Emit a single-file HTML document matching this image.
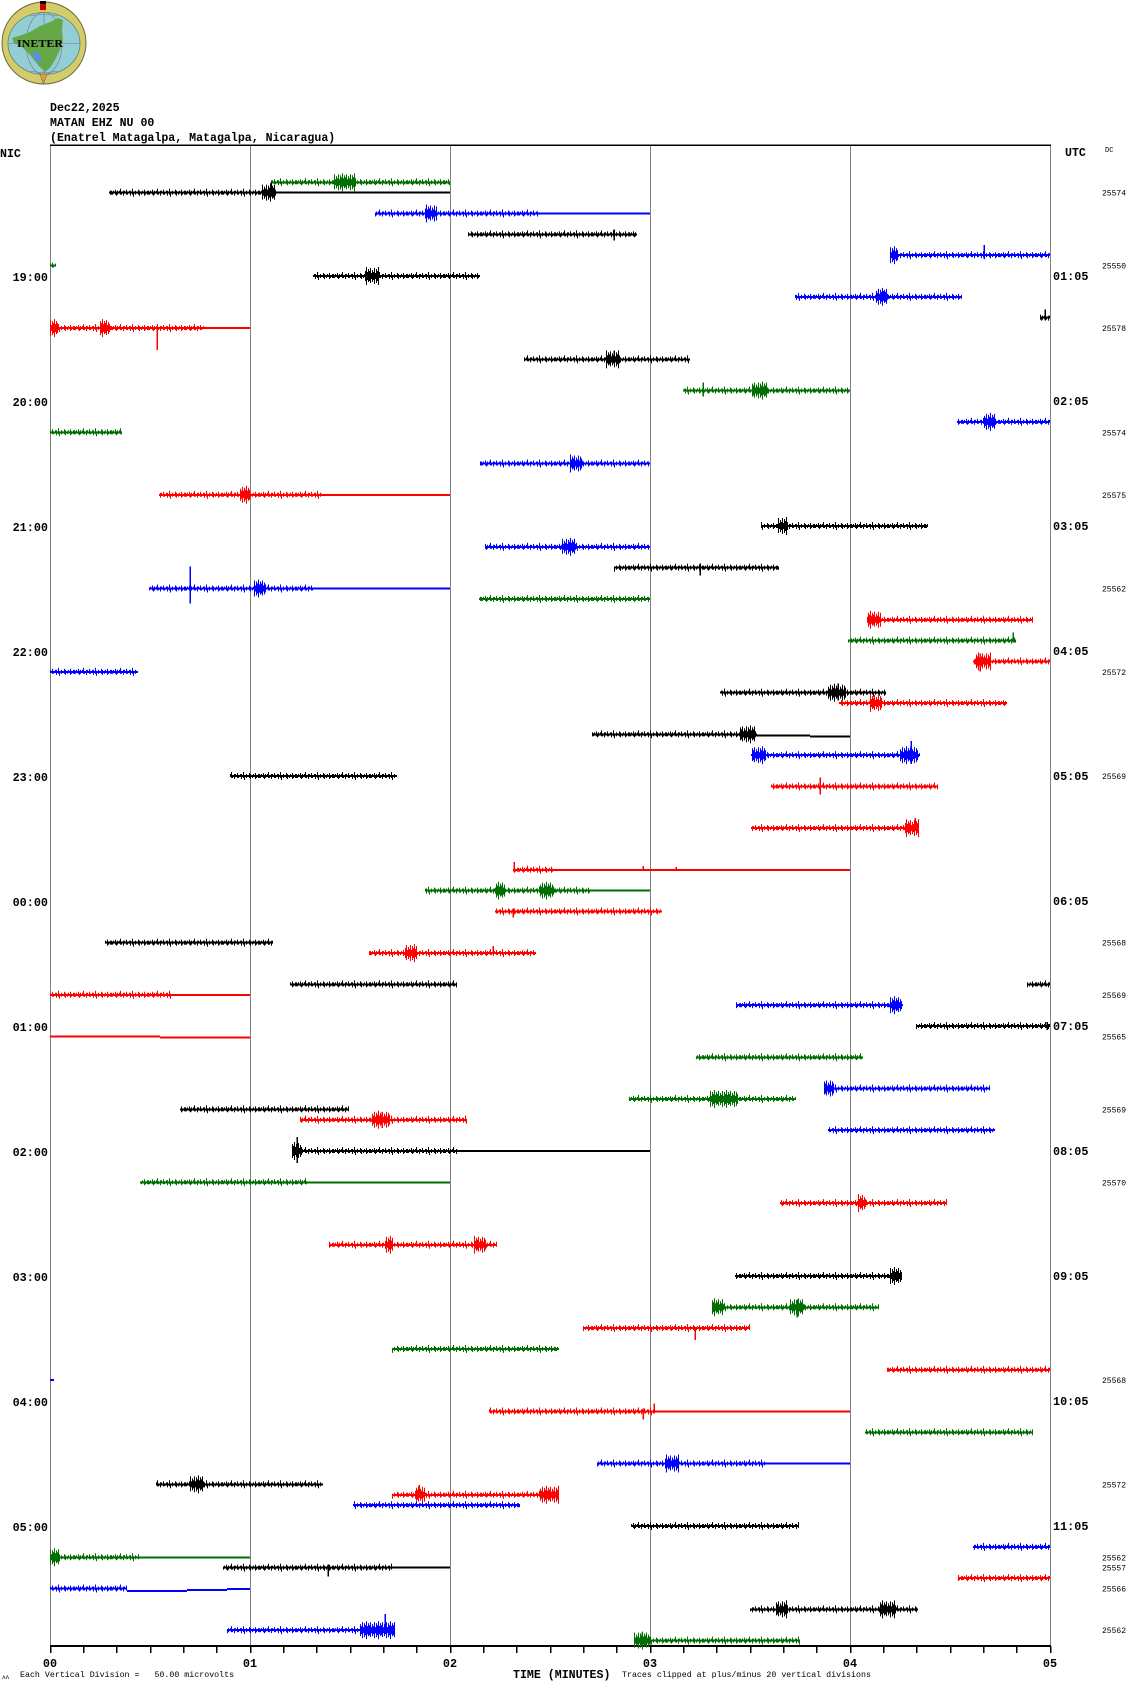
<!DOCTYPE html>
<html>
<head>
<meta charset="utf-8">
<style>
html,body{margin:0;padding:0;background:#fff;}
body{width:1130px;height:1689px;overflow:hidden;}
svg{display:block;}
.m{font-family:"Liberation Mono","DejaVu Sans Mono",monospace;}
.hb{font-weight:bold;font-size:11.6px;}
.tl{font-weight:bold;font-size:11.8px;}
.dc{font-size:8px;}
.sm{font-size:8.3px;white-space:pre;}
.k .L{fill:#000}.k .N{fill:url(#nk)}.k .B{fill:url(#bk)}.k path{stroke:#000}
.r .L{fill:#ff0000}.r .N{fill:url(#nr)}.r .B{fill:url(#br)}.r path{stroke:#ff0000}
.b .L{fill:#0000ff}.b .N{fill:url(#nb)}.b .B{fill:url(#bb)}.b path{stroke:#0000ff}
.g .L{fill:#006e00}.g .N{fill:url(#ng)}.g .B{fill:url(#bg)}.g path{stroke:#006e00}
.T path{stroke-width:1.5;fill:none}
</style>
</head>
<body>
<svg width="1130" height="1689" viewBox="0 0 1130 1689" xmlns="http://www.w3.org/2000/svg">
<defs>
<pattern id="nk" patternUnits="userSpaceOnUse" x="0" y="-7" width="37" height="14"><path d="M0.5 5V9M1.5 6V9M2.5 5V8M4.5 4V9M5.5 6V10M6.5 5V9M8.5 5V8M9.5 3V9M10.5 6V9M12.5 5V10M13.5 5V8M15.5 4V9M16.5 6V9M18.5 5V8M19.5 5V10M21.5 3V9M22.5 6V11M24.5 5V9M25.5 6V8M27.5 4V9M28.5 5V10M30.5 6V9M31.5 5V8M33.5 4V10M34.5 6V9M36.5 5V9" stroke="#000" stroke-width="1" shape-rendering="crispEdges"/></pattern>
<pattern id="nr" patternUnits="userSpaceOnUse" x="0" y="-7" width="37" height="14"><path d="M0.5 5V9M1.5 6V9M2.5 5V8M4.5 4V9M5.5 6V10M6.5 5V9M8.5 5V8M9.5 3V9M10.5 6V9M12.5 5V10M13.5 5V8M15.5 4V9M16.5 6V9M18.5 5V8M19.5 5V10M21.5 3V9M22.5 6V11M24.5 5V9M25.5 6V8M27.5 4V9M28.5 5V10M30.5 6V9M31.5 5V8M33.5 4V10M34.5 6V9M36.5 5V9" stroke="#ff0000" stroke-width="1" shape-rendering="crispEdges"/></pattern>
<pattern id="nb" patternUnits="userSpaceOnUse" x="0" y="-7" width="37" height="14"><path d="M0.5 5V9M1.5 6V9M2.5 5V8M4.5 4V9M5.5 6V10M6.5 5V9M8.5 5V8M9.5 3V9M10.5 6V9M12.5 5V10M13.5 5V8M15.5 4V9M16.5 6V9M18.5 5V8M19.5 5V10M21.5 3V9M22.5 6V11M24.5 5V9M25.5 6V8M27.5 4V9M28.5 5V10M30.5 6V9M31.5 5V8M33.5 4V10M34.5 6V9M36.5 5V9" stroke="#0000ff" stroke-width="1" shape-rendering="crispEdges"/></pattern>
<pattern id="ng" patternUnits="userSpaceOnUse" x="0" y="-7" width="37" height="14"><path d="M0.5 5V9M1.5 6V9M2.5 5V8M4.5 4V9M5.5 6V10M6.5 5V9M8.5 5V8M9.5 3V9M10.5 6V9M12.5 5V10M13.5 5V8M15.5 4V9M16.5 6V9M18.5 5V8M19.5 5V10M21.5 3V9M22.5 6V11M24.5 5V9M25.5 6V8M27.5 4V9M28.5 5V10M30.5 6V9M31.5 5V8M33.5 4V10M34.5 6V9M36.5 5V9" stroke="#006e00" stroke-width="1" shape-rendering="crispEdges"/></pattern>
<pattern id="bk" patternUnits="userSpaceOnUse" x="0" y="-12" width="12" height="24"><path d="M0.5 6V18M1.5 8V16M2.5 4V20M3.5 9V15M4.5 5V19M5.5 7V17M6.5 3V21M7.5 8V16M8.5 5V18M9.5 7V17M10.5 4V19M11.5 9V15" stroke="#000" stroke-width="1" shape-rendering="crispEdges"/></pattern>
<pattern id="br" patternUnits="userSpaceOnUse" x="0" y="-12" width="12" height="24"><path d="M0.5 6V18M1.5 8V16M2.5 4V20M3.5 9V15M4.5 5V19M5.5 7V17M6.5 3V21M7.5 8V16M8.5 5V18M9.5 7V17M10.5 4V19M11.5 9V15" stroke="#ff0000" stroke-width="1" shape-rendering="crispEdges"/></pattern>
<pattern id="bb" patternUnits="userSpaceOnUse" x="0" y="-12" width="12" height="24"><path d="M0.5 6V18M1.5 8V16M2.5 4V20M3.5 9V15M4.5 5V19M5.5 7V17M6.5 3V21M7.5 8V16M8.5 5V18M9.5 7V17M10.5 4V19M11.5 9V15" stroke="#0000ff" stroke-width="1" shape-rendering="crispEdges"/></pattern>
<pattern id="bg" patternUnits="userSpaceOnUse" x="0" y="-12" width="12" height="24"><path d="M0.5 6V18M1.5 8V16M2.5 4V20M3.5 9V15M4.5 5V19M5.5 7V17M6.5 3V21M7.5 8V16M8.5 5V18M9.5 7V17M10.5 4V19M11.5 9V15" stroke="#006e00" stroke-width="1" shape-rendering="crispEdges"/></pattern>
</defs>

<!-- Logo -->
<g>
<ellipse cx="44" cy="43" rx="42" ry="41" fill="#d4cb6a" stroke="#6b6b3a" stroke-width="1"/>
<ellipse cx="44" cy="43.5" rx="36" ry="31" fill="#93cdd6" stroke="#5a8a70" stroke-width="0.8"/>
<ellipse cx="44" cy="43.5" rx="18" ry="31" fill="none" stroke="#778" stroke-width="0.6"/>
<line x1="44" y1="12.5" x2="44" y2="74.5" stroke="#778" stroke-width="0.6"/>
<line x1="8" y1="43.5" x2="80" y2="43.5" stroke="#778" stroke-width="0.5"/>
<path d="M30 16 Q44 13 58 16 M30 71 Q44 74 58 71" stroke="#778" stroke-width="0.6" fill="none"/>
<path d="M12 38 L22 35 L30 32 L40 26 L50 22 L58 18 L63 20 L62 30 L63 40 L60 50 L55 60 L50 68 L45 72 L38 65 L30 55 L22 47 L14 43 Z" fill="#66a848"/>
<ellipse cx="37" cy="57" rx="3.5" ry="6" fill="#5b8fd6" transform="rotate(-30 37 57)"/>
<text x="17" y="47" font-family="Liberation Serif, serif" font-weight="bold" font-size="11" textLength="46" lengthAdjust="spacingAndGlyphs">INETER</text>
<rect x="40" y="1" width="6" height="4" fill="#000"/>
<rect x="40" y="4" width="6" height="6" fill="#cc0000"/>
<rect x="40" y="10" width="6" height="2" fill="#e8c040"/>
<polygon points="40,74 47,74 43.5,84" fill="#e0a040" stroke="#555" stroke-width="0.5"/>
</g>

<!-- Header text -->
<text class="m hb" x="50" y="111">Dec22,2025</text>
<text class="m hb" x="50" y="126">MATAN EHZ NU 00</text>
<text class="m hb" x="50" y="141">(Enatrel Matagalpa, Matagalpa, Nicaragua)</text>
<text class="m hb" x="0" y="157">NIC</text>
<text class="m hb" x="1065" y="156">UTC</text>
<text class="m" x="1105" y="152" font-size="7">DC</text>

<!-- Frame and grid -->
<g shape-rendering="crispEdges">
<line x1="50.5" y1="145" x2="50.5" y2="1646" stroke="#808080" stroke-width="1"/>
<line x1="250.5" y1="145" x2="250.5" y2="1646" stroke="#808080" stroke-width="1"/>
<line x1="450.5" y1="145" x2="450.5" y2="1646" stroke="#808080" stroke-width="1"/>
<line x1="650.5" y1="145" x2="650.5" y2="1646" stroke="#808080" stroke-width="1"/>
<line x1="850.5" y1="145" x2="850.5" y2="1646" stroke="#808080" stroke-width="1"/>
<line x1="1050.5" y1="145" x2="1050.5" y2="1646" stroke="#808080" stroke-width="1"/>
<rect x="50" y="144.5" width="1001" height="1.5" fill="#000"/>
<rect x="50" y="1645" width="1001" height="2" fill="#000"/>
<path d="M50.5 1646V1653M83.5 1646V1653M116.5 1646V1653M150.5 1646V1653M183.5 1646V1653M216.5 1646V1653M250.5 1646V1653M283.5 1646V1653M316.5 1646V1653M350.5 1646V1653M383.5 1646V1653M416.5 1646V1653M450.5 1646V1653M483.5 1646V1653M516.5 1646V1653M550.5 1646V1653M583.5 1646V1653M616.5 1646V1653M650.5 1646V1653M683.5 1646V1653M716.5 1646V1653M750.5 1646V1653M783.5 1646V1653M816.5 1646V1653M850.5 1646V1653M883.5 1646V1653M916.5 1646V1653M950.5 1646V1653M983.5 1646V1653M1016.5 1646V1653M1050.5 1646V1653" stroke="#000" stroke-width="1.5"/>
</g>

<!-- Traces -->
<g class="T" shape-rendering="crispEdges">
<g class="g" transform="translate(0,182.25)"><rect class="L" x="271" y="-1" width="179" height="2"/><rect class="N" x="271" y="-7" width="179" height="14"/><rect class="B" x="334" y="-12" width="22" height="24"/></g>
<g class="k" transform="translate(0,192.67)"><rect class="L" x="109" y="-1" width="341" height="2"/><rect class="N" x="109" y="-7" width="165" height="14"/><rect class="B" x="262" y="-12" width="14" height="24"/><path d="M271 -10V4"/></g>
<g class="b" transform="translate(0,213.5)"><rect class="L" x="375" y="-1" width="275" height="2"/><rect class="N" x="375" y="-7" width="163" height="14"/><rect class="B" x="425" y="-12" width="12" height="24"/></g>
<g class="k" transform="translate(0,234.33)"><rect class="L" x="468" y="-1" width="169" height="2"/><rect class="N" x="468" y="-7" width="169" height="14"/><path d="M614 -5V6"/></g>
<g class="b" transform="translate(0,255.17)"><rect class="L" x="890" y="-1" width="160" height="2"/><rect class="N" x="890" y="-7" width="160" height="14"/><rect class="B" x="890" y="-12" width="8" height="24"/><path d="M984 -10V4"/></g>
<g class="g" transform="translate(0,265.58)"><rect class="L" x="50" y="-1" width="6" height="2"/><rect class="N" x="50" y="-7" width="6" height="14"/></g>
<g class="k" transform="translate(0,276)"><rect class="L" x="313" y="-1" width="167" height="2"/><rect class="N" x="313" y="-7" width="167" height="14"/><rect class="B" x="365" y="-12" width="14" height="24"/></g>
<g class="b" transform="translate(0,296.83)"><rect class="L" x="795" y="-1" width="167" height="2"/><rect class="N" x="795" y="-7" width="167" height="14"/><rect class="B" x="876" y="-12" width="12" height="24"/><path d="M883 -6V3"/></g>
<g class="k" transform="translate(0,317.67)"><rect class="L" x="1040" y="-1" width="10" height="2"/><rect class="N" x="1040" y="-7" width="10" height="14"/><path d="M1045 -8V3"/></g>
<g class="r" transform="translate(0,328.08)"><rect class="L" x="50" y="-1" width="200" height="2"/><rect class="N" x="50" y="-7" width="154" height="14"/><rect class="B" x="50" y="-12" width="8" height="24"/><rect class="B" x="100" y="-12" width="10" height="24"/><path d="M157 0V22"/></g>
<g class="k" transform="translate(0,359.33)"><rect class="L" x="524" y="-1" width="166" height="2"/><rect class="N" x="524" y="-7" width="166" height="14"/><rect class="B" x="606" y="-12" width="14" height="24"/><path d="M614 -9V4"/></g>
<g class="g" transform="translate(0,390.58)"><rect class="L" x="683" y="-1" width="167" height="2"/><rect class="N" x="683" y="-7" width="167" height="14"/><rect class="B" x="752" y="-12" width="16" height="24"/><path d="M703 -8V6"/></g>
<g class="b" transform="translate(0,421.83)"><rect class="L" x="957" y="-1" width="93" height="2"/><rect class="N" x="957" y="-7" width="93" height="14"/><rect class="B" x="984" y="-12" width="12" height="24"/></g>
<g class="g" transform="translate(0,432.25)"><rect class="L" x="50" y="-1" width="72" height="2"/><rect class="N" x="50" y="-7" width="72" height="14"/></g>
<g class="b" transform="translate(0,463.5)"><rect class="L" x="480" y="-1" width="170" height="2"/><rect class="N" x="480" y="-7" width="170" height="14"/><rect class="B" x="570" y="-12" width="12" height="24"/></g>
<g class="r" transform="translate(0,494.75)"><rect class="L" x="159" y="-1" width="291" height="2"/><rect class="N" x="159" y="-7" width="164" height="14"/><rect class="B" x="240" y="-12" width="10" height="24"/></g>
<g class="k" transform="translate(0,526)"><rect class="L" x="761" y="-1" width="167" height="2"/><rect class="N" x="761" y="-7" width="167" height="14"/><rect class="B" x="778" y="-12" width="10" height="24"/></g>
<g class="b" transform="translate(0,546.83)"><rect class="L" x="485" y="-1" width="165" height="2"/><rect class="N" x="485" y="-7" width="165" height="14"/><rect class="B" x="562" y="-12" width="14" height="24"/></g>
<g class="k" transform="translate(0,567.67)"><rect class="L" x="614" y="-1" width="165" height="2"/><rect class="N" x="614" y="-7" width="165" height="14"/><path d="M700 -4V8"/></g>
<g class="b" transform="translate(0,588.5)"><rect class="L" x="149" y="-1" width="301" height="2"/><rect class="N" x="149" y="-7" width="165" height="14"/><rect class="B" x="254" y="-12" width="12" height="24"/><path d="M190 -22V15"/></g>
<g class="g" transform="translate(0,598.92)"><rect class="L" x="479" y="-1" width="171" height="2"/><rect class="N" x="479" y="-7" width="171" height="14"/></g>
<g class="r" transform="translate(0,619.75)"><rect class="L" x="867" y="-1" width="166" height="2"/><rect class="N" x="867" y="-7" width="166" height="14"/><rect class="B" x="867" y="-12" width="14" height="24"/></g>
<g class="g" transform="translate(0,640.58)"><rect class="L" x="848" y="-1" width="168" height="2"/><rect class="N" x="848" y="-7" width="168" height="14"/><path d="M1013 -8V2"/></g>
<g class="r" transform="translate(0,661.42)"><rect class="L" x="973" y="-1" width="77" height="2"/><rect class="N" x="973" y="-7" width="77" height="14"/><rect class="B" x="975" y="-12" width="16" height="24"/><path d="M980 -8V10"/></g>
<g class="b" transform="translate(0,671.83)"><rect class="L" x="50" y="-1" width="88" height="2"/><rect class="N" x="50" y="-7" width="88" height="14"/></g>
<g class="k" transform="translate(0,692.67)"><rect class="L" x="720" y="-1" width="166" height="2"/><rect class="N" x="720" y="-7" width="166" height="14"/><rect class="B" x="828" y="-12" width="18" height="24"/><path d="M838 -9V8"/></g>
<g class="r" transform="translate(0,703.08)"><rect class="L" x="839" y="-1" width="168" height="2"/><rect class="N" x="839" y="-7" width="168" height="14"/><rect class="B" x="870" y="-12" width="12" height="24"/></g>
<g class="k" transform="translate(0,734.33)"><rect class="L" x="592" y="-1" width="165" height="2"/><rect class="L" x="757" y="0" width="53" height="2"/><rect class="L" x="810" y="1" width="40" height="2"/><rect class="N" x="592" y="-7" width="165" height="14"/><rect class="B" x="740" y="-12" width="16" height="24"/></g>
<g class="b" transform="translate(0,755.17)"><rect class="L" x="751" y="-1" width="169" height="2"/><rect class="N" x="751" y="-7" width="169" height="14"/><rect class="B" x="752" y="-12" width="14" height="24"/><rect class="B" x="900" y="-12" width="18" height="24"/><path d="M911 -14V9"/></g>
<g class="k" transform="translate(0,776)"><rect class="L" x="230" y="-1" width="167" height="2"/><rect class="N" x="230" y="-7" width="167" height="14"/></g>
<g class="r" transform="translate(0,786.42)"><rect class="L" x="771" y="-1" width="167" height="2"/><rect class="N" x="771" y="-7" width="167" height="14"/><path d="M820 -9V8"/></g>
<g class="r" transform="translate(0,828.08)"><rect class="L" x="751" y="-1" width="168" height="2"/><rect class="N" x="751" y="-7" width="168" height="14"/><rect class="B" x="905" y="-12" width="14" height="24"/><path d="M915 -10V2"/></g>
<g class="r" transform="translate(0,869.75)"><rect class="L" x="513" y="-1" width="337" height="2"/><rect class="N" x="513" y="-7" width="40" height="14"/><path d="M514 -8V2M643 -4V1M676 -3V1"/></g>
<g class="g" transform="translate(0,890.58)"><rect class="L" x="425" y="-1" width="225" height="2"/><rect class="N" x="425" y="-7" width="166" height="14"/><rect class="B" x="495" y="-12" width="10" height="24"/><rect class="B" x="540" y="-12" width="14" height="24"/></g>
<g class="r" transform="translate(0,911.42)"><rect class="L" x="495" y="-1" width="167" height="2"/><rect class="N" x="495" y="-7" width="167" height="14"/><path d="M513 -3V6"/></g>
<g class="k" transform="translate(0,942.67)"><rect class="L" x="105" y="-1" width="168" height="2"/><rect class="N" x="105" y="-7" width="168" height="14"/></g>
<g class="r" transform="translate(0,953.08)"><rect class="L" x="369" y="-1" width="167" height="2"/><rect class="N" x="369" y="-7" width="167" height="14"/><rect class="B" x="405" y="-12" width="12" height="24"/><path d="M493 -7V0"/></g>
<g class="k" transform="translate(0,984.33)"><rect class="L" x="290" y="-1" width="167" height="2"/><rect class="N" x="290" y="-7" width="167" height="14"/><rect class="L" x="1027" y="-1" width="23" height="2"/><rect class="N" x="1027" y="-7" width="23" height="14"/></g>
<g class="r" transform="translate(0,994.75)"><rect class="L" x="50" y="-1" width="200" height="2"/><rect class="N" x="50" y="-7" width="122" height="14"/></g>
<g class="b" transform="translate(0,1005.17)"><rect class="L" x="736" y="-1" width="167" height="2"/><rect class="N" x="736" y="-7" width="167" height="14"/><rect class="B" x="890" y="-12" width="12" height="24"/></g>
<g class="k" transform="translate(0,1026)"><rect class="L" x="916" y="-1" width="134" height="2"/><rect class="N" x="916" y="-7" width="134" height="14"/><path d="M1047 -4V4"/></g>
<g class="r" transform="translate(0,1036.42)"><rect class="L" x="50" y="-1" width="110" height="2"/><rect class="L" x="160" y="0" width="90" height="2"/></g>
<g class="g" transform="translate(0,1057.25)"><rect class="L" x="696" y="-1" width="167" height="2"/><rect class="N" x="696" y="-7" width="167" height="14"/></g>
<g class="b" transform="translate(0,1088.5)"><rect class="L" x="824" y="-1" width="166" height="2"/><rect class="N" x="824" y="-7" width="166" height="14"/><rect class="B" x="824" y="-12" width="10" height="24"/></g>
<g class="g" transform="translate(0,1098.92)"><rect class="L" x="629" y="-1" width="167" height="2"/><rect class="N" x="629" y="-7" width="167" height="14"/><rect class="B" x="710" y="-12" width="28" height="24"/></g>
<g class="k" transform="translate(0,1109.33)"><rect class="L" x="180" y="-1" width="169" height="2"/><rect class="N" x="180" y="-7" width="169" height="14"/></g>
<g class="r" transform="translate(0,1119.75)"><rect class="L" x="300" y="-1" width="167" height="2"/><rect class="N" x="300" y="-7" width="167" height="14"/><rect class="B" x="372" y="-12" width="18" height="24"/><path d="M382 -8V8"/></g>
<g class="b" transform="translate(0,1130.17)"><rect class="L" x="828" y="-1" width="167" height="2"/><rect class="N" x="828" y="-7" width="167" height="14"/></g>
<g class="k" transform="translate(0,1151)"><rect class="L" x="292" y="-1" width="358" height="2"/><rect class="N" x="292" y="-7" width="165" height="14"/><rect class="B" x="292" y="-12" width="10" height="24"/><path d="M297 -14V12"/></g>
<g class="g" transform="translate(0,1182.25)"><rect class="L" x="140" y="-1" width="310" height="2"/><rect class="N" x="140" y="-7" width="167" height="14"/></g>
<g class="r" transform="translate(0,1203.08)"><rect class="L" x="780" y="-1" width="167" height="2"/><rect class="N" x="780" y="-7" width="167" height="14"/><rect class="B" x="858" y="-12" width="8" height="24"/></g>
<g class="r" transform="translate(0,1244.75)"><rect class="L" x="329" y="-1" width="168" height="2"/><rect class="N" x="329" y="-7" width="168" height="14"/><rect class="B" x="385" y="-12" width="8" height="24"/><rect class="B" x="474" y="-12" width="12" height="24"/></g>
<g class="k" transform="translate(0,1276)"><rect class="L" x="735" y="-1" width="167" height="2"/><rect class="N" x="735" y="-7" width="167" height="14"/><rect class="B" x="890" y="-12" width="12" height="24"/></g>
<g class="g" transform="translate(0,1307.25)"><rect class="L" x="712" y="-1" width="167" height="2"/><rect class="N" x="712" y="-7" width="167" height="14"/><rect class="B" x="712" y="-12" width="12" height="24"/><rect class="B" x="790" y="-12" width="14" height="24"/><path d="M797 -8V10"/></g>
<g class="r" transform="translate(0,1328.08)"><rect class="L" x="583" y="-1" width="167" height="2"/><rect class="N" x="583" y="-7" width="167" height="14"/><path d="M695 0V12"/></g>
<g class="g" transform="translate(0,1348.92)"><rect class="L" x="392" y="-1" width="167" height="2"/><rect class="N" x="392" y="-7" width="167" height="14"/></g>
<g class="r" transform="translate(0,1369.75)"><rect class="L" x="887" y="-1" width="163" height="2"/><rect class="N" x="887" y="-7" width="163" height="14"/></g>
<g class="b" transform="translate(0,1380.17)"><rect class="L" x="50" y="-1" width="4" height="2"/></g>
<g class="r" transform="translate(0,1411.42)"><rect class="L" x="489" y="-1" width="361" height="2"/><rect class="N" x="489" y="-7" width="166" height="14"/><path d="M643 -3V8M654 -8V2"/></g>
<g class="g" transform="translate(0,1432.25)"><rect class="L" x="865" y="-1" width="168" height="2"/><rect class="N" x="865" y="-7" width="168" height="14"/></g>
<g class="b" transform="translate(0,1463.5)"><rect class="L" x="597" y="-1" width="253" height="2"/><rect class="N" x="597" y="-7" width="168" height="14"/><rect class="B" x="665" y="-12" width="14" height="24"/></g>
<g class="k" transform="translate(0,1484.33)"><rect class="L" x="156" y="-1" width="167" height="2"/><rect class="N" x="156" y="-7" width="167" height="14"/><rect class="B" x="190" y="-12" width="14" height="24"/></g>
<g class="r" transform="translate(0,1494.75)"><rect class="L" x="392" y="-1" width="167" height="2"/><rect class="N" x="392" y="-7" width="167" height="14"/><rect class="B" x="415" y="-12" width="10" height="24"/><rect class="B" x="540" y="-12" width="19" height="24"/><path d="M419 -10V0"/></g>
<g class="b" transform="translate(0,1505.17)"><rect class="L" x="353" y="-1" width="167" height="2"/><rect class="N" x="353" y="-7" width="167" height="14"/></g>
<g class="k" transform="translate(0,1526)"><rect class="L" x="631" y="-1" width="168" height="2"/><rect class="N" x="631" y="-7" width="168" height="14"/></g>
<g class="b" transform="translate(0,1546.83)"><rect class="L" x="973" y="-1" width="77" height="2"/><rect class="N" x="973" y="-7" width="77" height="14"/></g>
<g class="g" transform="translate(0,1557.25)"><rect class="L" x="50" y="-1" width="200" height="2"/><rect class="N" x="50" y="-7" width="89" height="14"/><rect class="B" x="50" y="-12" width="10" height="24"/></g>
<g class="k" transform="translate(0,1567.67)"><rect class="L" x="223" y="-1" width="227" height="2"/><rect class="N" x="223" y="-7" width="169" height="14"/><path d="M328 -3V9"/></g>
<g class="r" transform="translate(0,1578.08)"><rect class="L" x="958" y="-1" width="92" height="2"/><rect class="N" x="958" y="-7" width="92" height="14"/></g>
<g class="b" transform="translate(0,1588.5)"><rect class="L" x="50" y="-1" width="77" height="2"/><rect class="N" x="50" y="-7" width="77" height="14"/><rect class="L" x="127" y="1.5" width="60" height="2"/><rect class="L" x="187" y="0.5" width="40" height="2"/><rect class="L" x="227" y="-0.5" width="23" height="2"/></g>
<g class="k" transform="translate(0,1609.33)"><rect class="L" x="750" y="-1" width="168" height="2"/><rect class="N" x="750" y="-7" width="168" height="14"/><rect class="B" x="776" y="-12" width="12" height="24"/><rect class="B" x="880" y="-12" width="16" height="24"/></g>
<g class="b" transform="translate(0,1630.17)"><rect class="L" x="227" y="-1" width="168" height="2"/><rect class="N" x="227" y="-7" width="168" height="14"/><rect class="B" x="360" y="-12" width="35" height="24"/><path d="M385 -16V4"/></g>
<g class="g" transform="translate(0,1640.58)"><rect class="L" x="634" y="-1" width="166" height="2"/><rect class="N" x="634" y="-7" width="166" height="14"/><rect class="B" x="634" y="-12" width="16" height="24"/><path d="M642 -8V6"/></g>
</g>

<!-- NIC time labels -->
<g class="m tl" text-anchor="end">
<text x="48" y="281">19:00</text>
<text x="48" y="406">20:00</text>
<text x="48" y="531">21:00</text>
<text x="48" y="656">22:00</text>
<text x="48" y="781">23:00</text>
<text x="48" y="906">00:00</text>
<text x="48" y="1031">01:00</text>
<text x="48" y="1156">02:00</text>
<text x="48" y="1281">03:00</text>
<text x="48" y="1406">04:00</text>
<text x="48" y="1531">05:00</text>
</g>
<!-- UTC labels -->
<g class="m tl">
<text x="1053" y="280">01:05</text>
<text x="1053" y="405">02:05</text>
<text x="1053" y="530">03:05</text>
<text x="1053" y="655">04:05</text>
<text x="1053" y="780">05:05</text>
<text x="1053" y="905">06:05</text>
<text x="1053" y="1030">07:05</text>
<text x="1053" y="1155">08:05</text>
<text x="1053" y="1280">09:05</text>
<text x="1053" y="1405">10:05</text>
<text x="1053" y="1530">11:05</text>
</g>
<!-- DC values -->
<g class="m dc">
<text x="1102" y="195.7">25574</text>
<text x="1102" y="268.6">25550</text>
<text x="1102" y="331.1">25578</text>
<text x="1102" y="435.3">25574</text>
<text x="1102" y="497.8">25575</text>
<text x="1102" y="591.5">25562</text>
<text x="1102" y="674.8">25572</text>
<text x="1102" y="779">25569</text>
<text x="1102" y="945.7">25568</text>
<text x="1102" y="997.8">25569</text>
<text x="1102" y="1039.4">25565</text>
<text x="1102" y="1112.3">25569</text>
<text x="1102" y="1185.3">25570</text>
<text x="1102" y="1383.2">25568</text>
<text x="1102" y="1487.3">25572</text>
<text x="1102" y="1560.3">25562</text>
<text x="1102" y="1570.7">25557</text>
<text x="1102" y="1591.5">25566</text>
<text x="1102" y="1633.2">25562</text>
</g>

<!-- Axis labels -->
<g class="m tl" text-anchor="middle">
<text x="50" y="1667">00</text>
<text x="250" y="1667">01</text>
<text x="450" y="1667">02</text>
<text x="650" y="1667">03</text>
<text x="850" y="1667">04</text>
<text x="1050" y="1667">05</text>
</g>
<text class="m hb" x="513" y="1678">TIME (MINUTES)</text>
<text class="m sm" x="20" y="1677" xml:space="preserve">Each Vertical Division =   50.00 microvolts</text>
<text class="m sm" x="622" y="1677">Traces clipped at plus/minus 20 vertical divisions</text>
<text class="m" x="2" y="1679" font-size="6">ʌʌ</text>
</svg>
</body>
</html>
